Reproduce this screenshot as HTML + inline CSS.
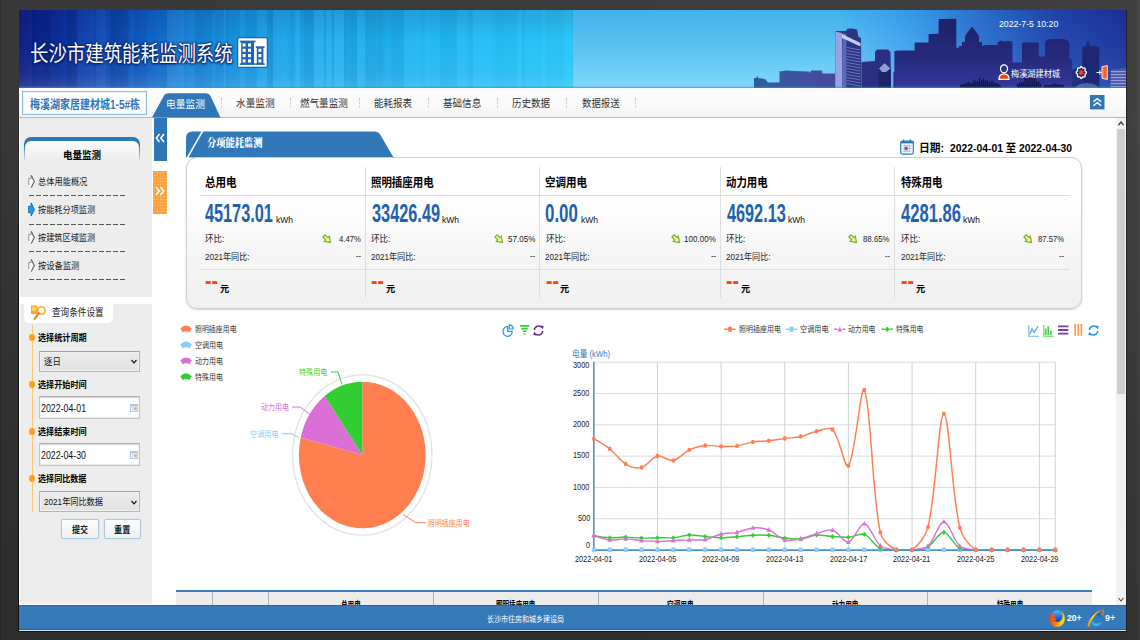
<!DOCTYPE html>
<html lang="zh-CN"><head><meta charset="utf-8"><title>长沙市建筑能耗监测系统</title>
<style>
html,body{margin:0;padding:0}
body{width:1140px;height:640px;overflow:hidden;background:#353535;position:relative;font-family:'Liberation Sans','Noto Sans CJK SC',sans-serif;font-size:12px}
#root{position:absolute;left:0;top:0;width:1140px;height:640px;overflow:hidden}
.a{position:absolute}
.t{position:absolute;white-space:nowrap;line-height:1;transform-origin:0 0;display:block}
svg{position:absolute;overflow:visible}
</style></head><body><div id="root">
<div class="a" style="left:0;top:0;width:1140px;height:640px;background:linear-gradient(to right,#2a2a2a 0,#383838 1.500px,#393939 19px,#3b3b3b 600px,#404040 1127px,#424242 1137px,#4c4c4c 1140px)"></div><div class="a" style="left:0;top:0;width:1140px;height:640px;background:linear-gradient(to bottom,rgba(0,0,0,0) 0,rgba(0,0,0,0) 15%,rgba(0,0,0,.16) 70%,rgba(0,0,0,.22) 100%)"></div><div class="a" style="left:17.800px;top:60px;width:1.400px;height:572px;background:linear-gradient(to bottom,rgba(15,15,15,0),rgba(15,15,15,.9) 30%,rgba(15,15,15,1))"></div><div class="a" style="left:19px;top:631px;width:1108px;height:1.300px;background:#131313"></div><div class="a" style="left:1126px;top:10px;width:1.300px;height:622px;background:#222226"></div><div class="a" style="left:19px;top:10px;width:1107px;height:621px;background:#fff"></div><div class="a" style="left:19px;top:10px;width:555px;height:78px;background:linear-gradient(to right,#0a1a80 0,#0a1e86 1.200%,#0c2c98 6%,#0c40ae 12%,#0e52be 18%,#1068cc 24%,#1480d8 30%,#1890e0 36%,#189ce6 42%,#1aa6ea 48%,#1cb0ee 60%,#1eb4f0 68.500%,#24bef5 85%,#2cc8fa 100%)"></div><div class="a" style="left:19px;top:10px;width:555px;height:78px;background:linear-gradient(to right,rgba(255,255,255,0.024) 0.6px,rgba(255,255,255,0.024) 12.4px,rgba(0,0,40,0.038) 13.6px,rgba(0,0,40,0.038) 25.4px,rgba(0,0,40,0.112) 26.6px,rgba(0,0,40,0.112) 30.4px,rgba(0,0,40,0.031) 31.6px,rgba(0,0,40,0.031) 47.4px,rgba(0,0,40,0.132) 48.6px,rgba(0,0,40,0.132) 51.4px,rgba(0,0,40,0.119) 52.6px,rgba(0,0,40,0.119) 57.4px,rgba(255,255,255,0.027) 58.6px,rgba(255,255,255,0.027) 74.4px,rgba(255,255,255,0.001) 75.6px,rgba(255,255,255,0.001) 76.4px,rgba(255,255,255,0.049) 77.6px,rgba(255,255,255,0.049) 86.4px,rgba(255,255,255,0.005) 87.6px,rgba(255,255,255,0.005) 90.4px,rgba(0,0,40,0.130) 91.6px,rgba(0,0,40,0.130) 107.4px,rgba(0,0,40,0.096) 108.6px,rgba(0,0,40,0.096) 109.4px,rgba(255,255,255,0.002) 110.6px,rgba(255,255,255,0.002) 114.4px,rgba(0,0,40,0.062) 115.6px,rgba(0,0,40,0.062) 127.4px,rgba(0,0,40,0.016) 128.6px,rgba(0,0,40,0.016) 132.4px,rgba(0,0,40,0.020) 133.6px,rgba(0,0,40,0.020) 138.4px,rgba(0,0,40,0.029) 139.6px,rgba(0,0,40,0.029) 141.4px,rgba(0,0,40,0.041) 142.6px,rgba(0,0,40,0.041) 147.4px,rgba(255,255,255,0.064) 148.6px,rgba(255,255,255,0.064) 164.4px,rgba(255,255,255,0.020) 165.6px,rgba(255,255,255,0.020) 167.4px,rgba(255,255,255,0.028) 168.6px,rgba(255,255,255,0.028) 175.4px,rgba(0,0,40,0.063) 176.6px,rgba(0,0,40,0.063) 192.4px,rgba(0,0,40,0.005) 193.6px,rgba(0,0,40,0.005) 195.4px,rgba(0,0,40,0.038) 196.6px,rgba(0,0,40,0.038) 198.4px,rgba(0,0,40,0.040) 199.6px,rgba(0,0,40,0.040) 204.4px,rgba(255,255,255,0.044) 205.6px,rgba(255,255,255,0.044) 206.4px,rgba(0,0,40,0.074) 207.6px,rgba(0,0,40,0.074) 208.4px,rgba(0,0,40,0.023) 209.6px,rgba(0,0,40,0.023) 210.4px,rgba(0,0,40,0.033) 211.6px,rgba(0,0,40,0.033) 220.4px,rgba(255,255,255,0.033) 221.6px,rgba(255,255,255,0.033) 225.4px,rgba(0,0,40,0.047) 226.6px,rgba(0,0,40,0.047) 231.4px,rgba(0,0,40,0.047) 232.6px,rgba(0,0,40,0.047) 237.4px,rgba(255,255,255,0.030) 238.6px,rgba(255,255,255,0.030) 247.4px,rgba(0,0,40,0.081) 248.6px,rgba(0,0,40,0.081) 250.4px,rgba(0,0,40,0.102) 251.6px,rgba(0,0,40,0.102) 253.4px,rgba(255,255,255,0.037) 254.6px,rgba(255,255,255,0.037) 266.4px,rgba(255,255,255,0.016) 267.6px,rgba(255,255,255,0.016) 270.4px,rgba(0,0,40,0.023) 271.6px,rgba(0,0,40,0.023) 275.4px,rgba(255,255,255,0.067) 276.6px,rgba(255,255,255,0.067) 280.4px,rgba(0,0,40,0.027) 281.6px,rgba(0,0,40,0.027) 284.4px,rgba(0,0,40,0.076) 285.6px,rgba(0,0,40,0.076) 294.4px,rgba(255,255,255,0.064) 295.6px,rgba(255,255,255,0.064) 304.4px,rgba(0,0,40,0.049) 305.6px,rgba(0,0,40,0.049) 306.4px,rgba(255,255,255,0.063) 307.6px,rgba(255,255,255,0.063) 312.4px,rgba(0,0,40,0.056) 313.6px,rgba(0,0,40,0.056) 314.4px,rgba(255,255,255,0.061) 315.6px,rgba(255,255,255,0.061) 324.4px,rgba(0,0,40,0.079) 325.6px,rgba(0,0,40,0.079) 327.4px,rgba(0,0,40,0.054) 328.6px,rgba(0,0,40,0.054) 331.4px,rgba(0,0,40,0.082) 332.6px,rgba(0,0,40,0.082) 337.4px,rgba(255,255,255,0.034) 338.6px,rgba(255,255,255,0.034) 345.4px,rgba(0,0,40,0.070) 346.6px,rgba(0,0,40,0.070) 355.4px,rgba(0,0,40,0.050) 356.6px,rgba(0,0,40,0.050) 358.4px,rgba(0,0,40,0.074) 359.6px,rgba(0,0,40,0.074) 363.4px,rgba(0,0,40,0.027) 364.6px,rgba(0,0,40,0.027) 371.4px,rgba(0,0,40,0.057) 372.6px,rgba(0,0,40,0.057) 384.4px,rgba(255,255,255,0.029) 385.6px,rgba(255,255,255,0.029) 397.4px,rgba(255,255,255,0.032) 398.6px,rgba(255,255,255,0.032) 401.4px,rgba(255,255,255,0.005) 402.6px,rgba(255,255,255,0.005) 405.4px,rgba(255,255,255,0.035) 406.6px,rgba(255,255,255,0.035) 411.4px,rgba(255,255,255,0.015) 412.6px,rgba(255,255,255,0.015) 416.4px,rgba(255,255,255,0.016) 417.6px,rgba(255,255,255,0.016) 420.4px,rgba(0,0,40,0.040) 421.6px,rgba(0,0,40,0.040) 437.4px,rgba(255,255,255,0.028) 438.6px,rgba(255,255,255,0.028) 447.4px,rgba(0,0,40,0.015) 448.6px,rgba(0,0,40,0.015) 450.4px,rgba(0,0,40,0.042) 451.6px,rgba(0,0,40,0.042) 453.4px,rgba(255,255,255,0.033) 454.6px,rgba(255,255,255,0.033) 470.4px,rgba(255,255,255,0.013) 471.6px,rgba(255,255,255,0.013) 475.4px,rgba(0,0,40,0.029) 476.6px,rgba(0,0,40,0.029) 485.4px,rgba(0,0,40,0.025) 486.6px,rgba(0,0,40,0.025) 498.4px,rgba(255,255,255,0.030) 499.6px,rgba(255,255,255,0.030) 502.4px,rgba(0,0,40,0.040) 503.6px,rgba(0,0,40,0.040) 505.4px,rgba(0,0,40,0.002) 506.6px,rgba(0,0,40,0.002) 518.4px,rgba(0,0,40,0.027) 519.6px,rgba(0,0,40,0.027) 521.4px,rgba(255,255,255,0.014) 522.6px,rgba(255,255,255,0.014) 526.4px,rgba(0,0,40,0.028) 527.6px,rgba(0,0,40,0.028) 529.4px,rgba(0,0,40,0.029) 530.6px,rgba(0,0,40,0.029) 542.4px,rgba(0,0,40,0.036) 543.6px,rgba(0,0,40,0.036) 544.4px,rgba(0,0,40,0.005) 545.6px,rgba(0,0,40,0.005) 552.4px,rgba(0,0,40,0.043) 553.6px,rgba(0,0,40,0.043) 556.4px)"></div><div class="a" style="left:19px;top:10px;width:555px;height:78px;background:linear-gradient(to bottom,rgba(0,0,60,.14) 0,rgba(0,0,0,0) 40%,rgba(255,255,255,.05) 82%,rgba(255,255,255,.15) 100%)"></div><div class="a" style="left:573px;top:10px;width:553px;height:78px;background:linear-gradient(to bottom,#42b1ec 0,#60c5f4 55%,#80d7fa 100%)"></div><div class="a" style="left:573px;top:10px;width:553px;height:78px;background:linear-gradient(to right,rgba(40,130,225,0) 0,rgba(40,130,225,0) 48%,rgba(40,130,225,.55) 62%,rgba(36,96,196,.85) 74%,rgba(28,62,165,.96) 87%,rgba(26,46,150,1) 100%)"></div><div class="a" style="left:860px;top:10px;width:266px;height:78px;background:linear-gradient(to bottom,rgba(255,255,255,0) 0,rgba(120,190,255,.10) 60%,rgba(120,190,255,.22) 100%)"></div><svg style="left:0;top:0;clip-path:inset(10px 14px 552px 573px)" width="1140" height="640" viewBox="0 0 1140 640"><defs><linearGradient id="skyg" gradientUnits="userSpaceOnUse" x1="0" y1="18" x2="0" y2="88"><stop offset="0" stop-color="#1d2168"/><stop offset=".55" stop-color="#252a7c"/><stop offset="1" stop-color="#33389a"/></linearGradient><linearGradient id="lowb" x1="0" x2="1" y1="0" y2="0"><stop offset="0" stop-color="#2c5f9f"/><stop offset="1" stop-color="#49499c"/></linearGradient></defs><polygon points="754,88 754,78 756.500,78 757,75.500 758.500,78 765,79 768,82.500 779.500,82.500 779.500,71.500 786,70.500 795,71 809,71.500 810,73 811,70.500 822,70.500 822.500,73.500 835,73.500 835,88" fill="url(#lowb)"/><polygon points="835.300,88 835.300,31 846,31 847,29 851,28.200 857,29.500 858.500,37 861,38 861.500,88" fill="#2b3582"/><polygon points="835.300,88 835.300,31.500 842,33 842.500,88" fill="#96a4e6"/><polygon points="842.500,88 842.500,33 846.500,34 846.500,88" fill="#5a69b8"/><polygon points="842,34 860.500,43 860.500,46.500 842,38" fill="#c6cdf2"/><path d="M847 47.5L860.500 50.0" stroke="#8c9ad8" stroke-width=".9" opacity=".75"/><path d="M847 50.5L860.500 53.0" stroke="#8c9ad8" stroke-width=".9" opacity=".75"/><path d="M847 53.5L860.500 56.0" stroke="#8c9ad8" stroke-width=".9" opacity=".75"/><path d="M847 56.5L860.500 59.0" stroke="#8c9ad8" stroke-width=".9" opacity=".75"/><path d="M847 59.5L860.500 62.0" stroke="#8c9ad8" stroke-width=".9" opacity=".75"/><path d="M847 62.5L860.500 65.0" stroke="#8c9ad8" stroke-width=".9" opacity=".75"/><path d="M847 65.5L860.500 68.0" stroke="#8c9ad8" stroke-width=".9" opacity=".75"/><path d="M847 68.5L860.500 71.0" stroke="#8c9ad8" stroke-width=".9" opacity=".75"/><path d="M847 71.5L860.500 74.0" stroke="#8c9ad8" stroke-width=".9" opacity=".75"/><path d="M847 74.5L860.500 77.0" stroke="#8c9ad8" stroke-width=".9" opacity=".75"/><path d="M847 77.5L860.500 80.0" stroke="#8c9ad8" stroke-width=".9" opacity=".75"/><path d="M847 80.5L860.500 83.0" stroke="#8c9ad8" stroke-width=".9" opacity=".75"/><path d="M847 83.5L860.500 86.0" stroke="#8c9ad8" stroke-width=".9" opacity=".75"/><polygon points="861.500,88 861.500,62 868,61.500 875,61 875,52 877,49.500 888,49.500 890.500,52 891,88" fill="#2b3084"/><polygon points="878.600,88 878.600,68 884.500,62.600 891,68 891,88" fill="#1d2566"/><polygon points="879,68.500 884.500,63 890.500,68.500 886,72 882,72" fill="#8e9cda"/><polygon points="893.500,88 893.500,72 897.500,68.800 902.300,72 902.300,88" fill="#1d2566"/><polygon points="894,72 897.500,69 902,72 898,75" fill="#9aa6e0"/><polygon points="894.400,88 894.400,51 898,50.400 914.600,50.400 914.600,43 916,42.500 928.600,42.500 928.600,34 938.500,33.700 938.800,19 956.300,18.800 956.300,47.700 959,47.700 959,46 962,46 962,42 965,42 965,36 968.500,31 972,26.700 975.500,31 979,36 979,42 982,42 982,46 983.500,46 983.500,45 997.500,45 997.500,42.500 999,41.600 1001,40.500 1003,41.600 1009,41 1012.500,41.600 1012.500,62.600 1022,62.600 1022,43 1024,42.500 1038.800,42.500 1038.800,56.500 1045,56.500 1045,42 1047.500,39.600 1052,39 1064,39 1068,40.500 1069.500,44 1069.500,59 1072,59 1072,88" fill="url(#skyg)"/><polygon points="1082.300,88 1082.300,47 1086,46 1087.300,42 1088,41 1088.800,42 1090,46 1099.300,46.500 1099.300,88" fill="#1e2774"/><polygon points="1072,88 1072,70 1082.300,66 1082.300,88" fill="#22307e"/><polygon points="1110.700,88 1110.700,69.500 1126,68 1126,88" fill="#4a5aa6"/><rect x="1110.700" y="71" width="15.300" height="1.200" fill="#a6b2e6" opacity=".8"/><rect x="1110.700" y="74" width="15.300" height="1.200" fill="#a6b2e6" opacity=".8"/><rect x="1110.700" y="77" width="15.300" height="1.200" fill="#a6b2e6" opacity=".8"/><rect x="1110.700" y="80" width="15.300" height="1.200" fill="#a6b2e6" opacity=".8"/><rect x="1110.700" y="83" width="15.300" height="1.200" fill="#a6b2e6" opacity=".8"/><rect x="1110.700" y="86" width="15.300" height="1.200" fill="#a6b2e6" opacity=".8"/><ellipse cx="1087" cy="89" rx="12" ry="6" fill="#8cc0f4" opacity=".4"/><rect x="960.0" y="85.6" width="1.300" height="2.4" fill="#121440"/><rect x="961.9" y="84.3" width="1.300" height="3.7" fill="#121440"/><rect x="963.8" y="84.0" width="1.300" height="4.0" fill="#121440"/><rect x="965.7" y="82.7" width="1.300" height="5.3" fill="#121440"/><rect x="967.6" y="81.9" width="1.300" height="6.1" fill="#121440"/><rect x="969.5" y="83.0" width="1.300" height="5.0" fill="#121440"/><rect x="971.4" y="82.8" width="1.300" height="5.2" fill="#121440"/><rect x="973.3" y="79.5" width="1.300" height="8.5" fill="#121440"/><rect x="975.2" y="81.3" width="1.300" height="6.7" fill="#121440"/><rect x="977.1" y="81.2" width="1.300" height="6.8" fill="#121440"/><rect x="979.0" y="78.0" width="1.300" height="10.0" fill="#121440"/><rect x="980.9" y="80.1" width="1.300" height="7.9" fill="#121440"/><rect x="982.8" y="78.8" width="1.300" height="9.2" fill="#121440"/><rect x="984.7" y="80.4" width="1.300" height="7.6" fill="#121440"/><rect x="986.6" y="80.2" width="1.300" height="7.8" fill="#121440"/><rect x="988.5" y="82.3" width="1.300" height="5.7" fill="#121440"/><rect x="990.4" y="81.2" width="1.300" height="6.8" fill="#121440"/><rect x="992.3" y="81.2" width="1.300" height="6.8" fill="#121440"/><rect x="994.2" y="82.9" width="1.300" height="5.1" fill="#121440"/><rect x="996.1" y="83.1" width="1.300" height="4.9" fill="#121440"/><rect x="998.0" y="84.1" width="1.300" height="3.9" fill="#121440"/><rect x="999.9" y="85.8" width="1.300" height="2.2" fill="#121440"/><rect x="960" y="85" width="40" height="3" fill="#14174a"/><rect x="1017.0" y="84.2" width="1.300" height="3.8" fill="#121440"/><rect x="1018.9" y="82.9" width="1.300" height="5.1" fill="#121440"/><rect x="1020.8" y="82.3" width="1.300" height="5.7" fill="#121440"/><rect x="1022.7" y="82.2" width="1.300" height="5.8" fill="#121440"/><rect x="1024.6" y="77.8" width="1.300" height="10.2" fill="#121440"/><rect x="1026.5" y="78.9" width="1.300" height="9.1" fill="#121440"/><rect x="1028.4" y="77.4" width="1.300" height="10.6" fill="#121440"/><rect x="1030.3" y="76.7" width="1.300" height="11.3" fill="#121440"/><rect x="1032.2" y="78.0" width="1.300" height="10.0" fill="#121440"/><rect x="1034.1" y="78.0" width="1.300" height="10.0" fill="#121440"/><rect x="1036.0" y="81.2" width="1.300" height="6.8" fill="#121440"/><rect x="1037.9" y="81.3" width="1.300" height="6.7" fill="#121440"/><rect x="1039.8" y="83.8" width="1.300" height="4.2" fill="#121440"/><rect x="1017" y="85" width="24" height="3" fill="#14174a"/><rect x="1044.0" y="86.3" width="1.300" height="1.7" fill="#121440"/><rect x="1045.9" y="85.4" width="1.300" height="2.6" fill="#121440"/><rect x="1047.8" y="85.7" width="1.300" height="2.3" fill="#121440"/><rect x="1049.7" y="85.2" width="1.300" height="2.8" fill="#121440"/><rect x="1051.6" y="84.7" width="1.300" height="3.3" fill="#121440"/><rect x="1053.5" y="83.1" width="1.300" height="4.9" fill="#121440"/><rect x="1055.4" y="84.2" width="1.300" height="3.8" fill="#121440"/><rect x="1057.3" y="84.1" width="1.300" height="3.9" fill="#121440"/><rect x="1059.2" y="85.1" width="1.300" height="2.9" fill="#121440"/><rect x="1061.1" y="85.4" width="1.300" height="2.6" fill="#121440"/><rect x="1063.0" y="86.3" width="1.300" height="1.7" fill="#121440"/><rect x="1044" y="85" width="20" height="3" fill="#14174a"/></svg><div class="a" style="left:19px;top:86px;width:1107px;height:2px;background:linear-gradient(rgba(30,140,220,.0),rgba(30,150,230,.8))"></div><span class="t" style="left:29.58px;top:44px;font-size:21.50px;color:#fff;font-weight:400;transform:scaleX(0.8569);text-shadow:0 0 2px #08206e,0 0 2px #08206e,0 0 3px #08206e,0 1px 3px #061a60;">长沙市建筑能耗监测系统</span><svg style="left:236.500px;top:36.500px" width="31" height="31" viewBox="0 0 31 31">
<rect x=".6" y=".6" width="29.800" height="29.800" rx="1.500" fill="#fff" stroke="#1c63b4" stroke-width="1.300"/>
<rect x="4.200" y="4.500" width="12.800" height="22.500" fill="#1c63b4"/>
<rect x="2.800" y="3.600" width="15.800" height="1.700" fill="#1c63b4"/><rect x="2.800" y="26.300" width="15.800" height="1.600" fill="#1c63b4"/>
<rect x="19.800" y="10" width="6.600" height="17" fill="#1c63b4"/>
<rect x="18.800" y="9.300" width="8.800" height="1.600" fill="#1c63b4"/><rect x="18.800" y="26.300" width="8.800" height="1.600" fill="#1c63b4"/>
<rect x="5.6" y="6.4" width="3" height="3.200" fill="#fff"/><rect x="11.0" y="6.4" width="3" height="3.200" fill="#fff"/><rect x="5.6" y="11.7" width="3" height="3.200" fill="#fff"/><rect x="11.0" y="11.7" width="3" height="3.200" fill="#fff"/><rect x="5.6" y="17.0" width="3" height="3.200" fill="#fff"/><rect x="11.0" y="17.0" width="3" height="3.200" fill="#fff"/><rect x="5.6" y="22.3" width="3" height="3.200" fill="#fff"/><rect x="11.0" y="22.3" width="3" height="3.200" fill="#fff"/><rect x="21.4" y="11.7" width="3" height="3.200" fill="#fff"/><rect x="21.4" y="17.0" width="3" height="3.200" fill="#fff"/><rect x="21.4" y="22.3" width="3" height="3.200" fill="#fff"/></svg><span class="t" style="left:999.06px;top:19px;font-size:9.50px;color:#fff;font-weight:400;transform:scaleX(0.9195);">2022-7-5 10:20</span><svg style="left:997.500px;top:63.800px" width="12" height="16" viewBox="0 0 12 16">
<ellipse cx="6" cy="4.800" rx="3.500" ry="4" fill="none" stroke="#fff" stroke-width="1.300"/>
<path d="M.9 15.400c0-3.800 2-5.600 5.100-5.600s5.100 1.800 5.100 5.600z" fill="#f4410e" stroke="#fff" stroke-width="1.200"/></svg><span class="t" style="left:1010.86px;top:70px;font-size:8.80px;color:#fff;font-weight:400;transform:scaleX(0.9278);">梅溪湖建材城</span><svg style="left:1074.800px;top:64.500px" width="12.600" height="15" viewBox="-6.300 -7.500 12.600 15">
<path d="M5.12 0.00 L5.04 0.38 L4.82 0.74 L4.51 1.04 L4.20 1.31 L3.93 1.55 L3.77 1.82 L3.73 2.14 L3.76 2.52 L3.83 2.97 L3.85 3.44 L3.80 3.87 L3.62 4.21 L3.33 4.41 L2.96 4.48 L2.56 4.45 L2.17 4.37 L1.84 4.33 L1.56 4.39 L1.34 4.57 L1.12 4.88 L0.90 5.25 L0.63 5.60 L0.33 5.86 L0.00 5.95 L-0.33 5.86 L-0.63 5.60 L-0.90 5.25 L-1.12 4.88 L-1.34 4.57 L-1.56 4.39 L-1.84 4.33 L-2.17 4.37 L-2.56 4.45 L-2.96 4.48 L-3.33 4.41 L-3.62 4.21 L-3.80 3.87 L-3.85 3.44 L-3.83 2.97 L-3.76 2.52 L-3.73 2.14 L-3.77 1.82 L-3.93 1.55 L-4.20 1.31 L-4.51 1.04 L-4.82 0.74 L-5.04 0.38 L-5.12 0.00 L-5.04 -0.38 L-4.82 -0.74 L-4.51 -1.04 L-4.20 -1.31 L-3.93 -1.55 L-3.77 -1.82 L-3.73 -2.14 L-3.76 -2.52 L-3.83 -2.97 L-3.85 -3.44 L-3.80 -3.87 L-3.62 -4.21 L-3.33 -4.41 L-2.96 -4.48 L-2.56 -4.45 L-2.17 -4.37 L-1.84 -4.33 L-1.56 -4.39 L-1.34 -4.57 L-1.12 -4.88 L-0.90 -5.25 L-0.63 -5.60 L-0.33 -5.86 L-0.00 -5.95 L0.33 -5.86 L0.63 -5.60 L0.90 -5.25 L1.12 -4.88 L1.34 -4.57 L1.56 -4.39 L1.84 -4.33 L2.17 -4.37 L2.56 -4.45 L2.96 -4.48 L3.33 -4.41 L3.62 -4.21 L3.80 -3.87 L3.85 -3.44 L3.83 -2.97 L3.76 -2.53 L3.73 -2.14 L3.77 -1.82 L3.93 -1.55 L4.20 -1.31 L4.51 -1.04 L4.82 -0.74 L5.04 -0.38 L5.12 -0.00Z" fill="#20287a" stroke="#fff" stroke-width="1.300"/><ellipse rx="2.300" ry="2.600" fill="#f4410e"/></svg><svg style="left:1095.500px;top:64.500px" width="12" height="15" viewBox="0 0 12 15">
<path d="M6 1.800L11.300 .5v14L6 13.200z" fill="#f4511e" stroke="#fff" stroke-width=".9"/>
<path d="M7.500 3v9.500M9.300 2.500v10.500" stroke="#f7a07a" stroke-width=".5"/>
<path d="M.5 7.500h5.500M3.800 5.500v4" fill="none" stroke="#fff" stroke-width="1.100"/></svg><div class="a" style="left:19px;top:88px;width:1107px;height:29px;background:linear-gradient(#fdfdfd,#fafafa 50%,#f4f4f4)"></div><div class="a" style="left:19px;top:117px;width:1107px;height:1px;background:#b9b9b9"></div><div class="a" style="left:22px;top:91px;width:123px;height:22px;border:1px solid #8fb8e2;background:#fff;box-shadow:inset 0 0 0 1px #e8f1fa"></div><span class="t" style="left:29.90px;top:99px;font-size:12.50px;color:#2f76b7;font-weight:700;transform:scaleX(0.7999);">梅溪湖家居建材城1-5#栋</span><svg style="left:0;top:0" width="300" height="120" viewBox="0 0 300 120"><path d="M152 117.500 L163.500 96.500 Q165 93.200 169 93.200 L205.500 93.200 Q209 93.200 210.700 96.500 L220.500 117.500 Z" fill="#2f76b7"/></svg><span class="t" style="left:166.03px;top:100px;font-size:10.40px;color:#fff;font-weight:400;transform:scaleX(0.9363);">电量监测</span><span class="t" style="left:235.71px;top:99px;font-size:10.40px;color:#333;font-weight:400;transform:scaleX(0.9270);">水量监测</span><span class="t" style="left:300.31px;top:99px;font-size:10.40px;color:#333;font-weight:400;transform:scaleX(0.9184);">燃气量监测</span><span class="t" style="left:374.12px;top:99px;font-size:10.40px;color:#333;font-weight:400;transform:scaleX(0.9174);">能耗报表</span><span class="t" style="left:443.21px;top:99px;font-size:10.40px;color:#333;font-weight:400;transform:scaleX(0.9198);">基础信息</span><span class="t" style="left:512.21px;top:99px;font-size:10.40px;color:#333;font-weight:400;transform:scaleX(0.9175);">历史数据</span><span class="t" style="left:582.02px;top:99px;font-size:10.40px;color:#333;font-weight:400;transform:scaleX(0.9056);">数据报送</span><div class="a" style="left:220.7px;top:98px;width:0;height:10px;border-left:1px dotted #bdbdbd"></div><div class="a" style="left:289.5px;top:98px;width:0;height:10px;border-left:1px dotted #bdbdbd"></div><div class="a" style="left:359.0px;top:98px;width:0;height:10px;border-left:1px dotted #bdbdbd"></div><div class="a" style="left:428.0px;top:98px;width:0;height:10px;border-left:1px dotted #bdbdbd"></div><div class="a" style="left:497.0px;top:98px;width:0;height:10px;border-left:1px dotted #bdbdbd"></div><div class="a" style="left:566.0px;top:98px;width:0;height:10px;border-left:1px dotted #bdbdbd"></div><div class="a" style="left:635.0px;top:98px;width:0;height:10px;border-left:1px dotted #bdbdbd"></div><svg style="left:1090.300px;top:95px" width="14.500" height="14.400" viewBox="0 0 13 14" preserveAspectRatio="none"><rect width="13" height="14" fill="#2f76b7"/>
<path d="M3 6.500l3.500-3 3.500 3M3 10.500l3.500-3 3.500 3" fill="none" stroke="#fff" stroke-width="1.400"/></svg><div class="a" style="left:20.300px;top:118px;width:132.200px;height:487px;background:#ededed"></div><div class="a" style="left:153.500px;top:118px;width:13px;height:42.500px;background:#2f76b7"></div><svg style="left:155px;top:133px" width="10" height="10" viewBox="0 0 10 10"><path d="M4.500 1L1.300 5l3.200 4M9 1L5.800 5 9 9" fill="none" stroke="#fff" stroke-width="1.500"/></svg><div class="a" style="left:153px;top:171px;width:13.500px;height:43px;background:#fba23e;background-image:radial-gradient(rgba(255,255,255,.35) .5px,rgba(255,255,255,0) .8px);background-size:3px 3px"></div><svg style="left:155px;top:186px" width="10" height="10" viewBox="0 0 10 10"><path d="M1 1l3.200 4L1 9M5.500 1l3.200 4-3.200 4" fill="none" stroke="#fff" stroke-width="1.500"/></svg><div class="a" style="left:24px;top:136.500px;width:116px;height:24px;border-radius:7px 7px 0 0;background:linear-gradient(#2f76b7 0,#2f76b7 35%,rgba(47,118,183,.55) 65%,rgba(47,118,183,.12) 100%)"></div><div class="a" style="left:25.200px;top:141.300px;width:113.600px;height:19.500px;border-radius:6px 6px 0 0;background:linear-gradient(#fafafa,#f4f4f4 55%,#ededed)"></div><span class="t" style="left:63.45px;top:150px;font-size:10.60px;color:#000;font-weight:700;transform:scaleX(0.8991);">电量监测</span><span class="t" style="left:38.27px;top:177px;font-size:9.60px;color:#222;font-weight:400;transform:scaleX(0.8572);">总体用能概况</span><div class="a" style="left:28.800px;top:194.9px;width:97.200px;height:1px;background:repeating-linear-gradient(to right,#555 0,#555 5.200px,rgba(0,0,0,0) 5.200px,rgba(0,0,0,0) 7px)"></div><svg style="left:28.200px;top:174.0px" width="7" height="15" viewBox="0 0 7 15"><path d="M.8 11V4.400h2.400V1.200L6.300 7.500 3.200 13.800" fill="#f8f8f8" stroke="#7a7a7a" stroke-width=".8"/><path d="M3.400 1.800L6.300 7.500 3.400 13.200" fill="none" stroke="#555" stroke-width=".9"/></svg><span class="t" style="left:38.35px;top:205px;font-size:9.60px;color:#222;font-weight:400;transform:scaleX(0.8514);">按能耗分项监测</span><div class="a" style="left:28.800px;top:224.3px;width:97.200px;height:1px;background:repeating-linear-gradient(to right,#555 0,#555 5.200px,rgba(0,0,0,0) 5.200px,rgba(0,0,0,0) 7px)"></div><svg style="left:28.200px;top:202.1px" width="7" height="15" viewBox="0 0 7 15"><path d="M.6 4.200h2.600V.9L6.500 7.500 3.200 14.100V10.800H.6z" fill="#1e9fe8" stroke="#0b5cab" stroke-width=".8"/></svg><span class="t" style="left:38.35px;top:233px;font-size:9.60px;color:#222;font-weight:400;transform:scaleX(0.8514);">按建筑区域监测</span><div class="a" style="left:28.800px;top:251.1px;width:97.200px;height:1px;background:repeating-linear-gradient(to right,#555 0,#555 5.200px,rgba(0,0,0,0) 5.200px,rgba(0,0,0,0) 7px)"></div><svg style="left:28.200px;top:230.3px" width="7" height="15" viewBox="0 0 7 15"><path d="M.8 11V4.400h2.400V1.200L6.300 7.500 3.200 13.800" fill="#f8f8f8" stroke="#7a7a7a" stroke-width=".8"/><path d="M3.400 1.800L6.300 7.500 3.400 13.200" fill="none" stroke="#555" stroke-width=".9"/></svg><span class="t" style="left:38.35px;top:261px;font-size:9.60px;color:#222;font-weight:400;transform:scaleX(0.8631);">按设备监测</span><div class="a" style="left:28.800px;top:279.2px;width:97.200px;height:1px;background:repeating-linear-gradient(to right,#555 0,#555 5.200px,rgba(0,0,0,0) 5.200px,rgba(0,0,0,0) 7px)"></div><svg style="left:28.200px;top:258.4px" width="7" height="15" viewBox="0 0 7 15"><path d="M.8 11V4.400h2.400V1.200L6.300 7.500 3.200 13.800" fill="#f8f8f8" stroke="#7a7a7a" stroke-width=".8"/><path d="M3.400 1.800L6.300 7.500 3.400 13.200" fill="none" stroke="#555" stroke-width=".9"/></svg><div class="a" style="left:19px;top:297px;width:133.500px;height:6.500px;background:#fff"></div><div class="a" style="left:24px;top:297px;width:88.500px;height:25.500px;border-radius:0 0 5px 5px;background:#fff"></div><svg style="left:30px;top:304px" width="17" height="17" viewBox="0 0 17 17">
<path d="M1 1.500h5.500l1 1.500V10H1z" fill="#f9a825"/><path d="M2 4h4M2 6h4" stroke="#fff" stroke-width=".8"/>
<circle cx="11.500" cy="6.500" r="3.700" fill="#fff" stroke="#f9a825" stroke-width="1.500"/>
<path d="M8.800 9.200L4.500 15" stroke="#f57c00" stroke-width="2" stroke-linecap="round"/></svg><span class="t" style="left:52.04px;top:308px;font-size:10.00px;color:#222;font-weight:400;transform:scaleX(0.8615);">查询条件设置</span><div class="a" style="left:31.500px;top:325px;width:1.200px;height:187px;background:#fbc878"></div><div class="a" style="left:29.200px;top:334.4px;width:6px;height:6.800px;border-radius:50%;background:#fba018"></div><span class="t" style="left:38.16px;top:334px;font-size:8.90px;color:#000;font-weight:700;transform:scaleX(0.9145);">选择统计周期</span><div class="a" style="left:29.200px;top:381.2px;width:6px;height:6.800px;border-radius:50%;background:#fba018"></div><span class="t" style="left:38.16px;top:381px;font-size:8.90px;color:#000;font-weight:700;transform:scaleX(0.9145);">选择开始时间</span><div class="a" style="left:29.200px;top:428.0px;width:6px;height:6.800px;border-radius:50%;background:#fba018"></div><span class="t" style="left:38.16px;top:428px;font-size:8.90px;color:#000;font-weight:700;transform:scaleX(0.9145);">选择结束时间</span><div class="a" style="left:29.200px;top:475.0px;width:6px;height:6.800px;border-radius:50%;background:#fba018"></div><span class="t" style="left:38.16px;top:475px;font-size:8.90px;color:#000;font-weight:700;transform:scaleX(0.9098);">选择同比数据</span><div class="a" style="left:38.500px;top:351.0px;width:99.500px;height:18.5px;border:1px solid #b4b4b4;border-top-color:#a2a2a2;background:linear-gradient(#ececec,#e2e2e2);box-shadow:inset 0 0 0 1px #f0f0f0"></div><span class="t" style="left:44.05px;top:357px;font-size:9.60px;color:#111;font-weight:400;transform:scaleX(0.8748);">逐日</span><svg style="left:130.500px;top:359.2px" width="6" height="5" viewBox="0 0 6 5"><path d="M.5 1l2.500 2.800L5.500 1" fill="none" stroke="#111" stroke-width="1.200"/></svg><div class="a" style="left:38.500px;top:396.4px;width:99.500px;height:21.0px;border:1px solid #c4c4c4;border-top-color:#adadad;background:#fff;box-shadow:inset 0 1px 1.500px #d2d2d2,inset 0 -1px 0 #ececec"></div><span class="t" style="left:41.36px;top:403px;font-size:10.60px;color:#111;font-weight:400;transform:scaleX(0.8308);">2022-04-01</span><svg style="left:130px;top:403.9px" width="8" height="8" viewBox="0 0 8 8"><rect x=".4" y=".4" width="7.200" height="7.200" fill="#e8f0fb" stroke="#a8c0e2" stroke-width=".8"/><rect x=".4" y=".4" width="7.200" height="1.800" fill="#a9c3ea"/><path d="M2 3.500h4M2 5.300h4M3 2.500v4M5 2.500v4" stroke="#c3d4ee" stroke-width=".5"/><rect x="4.300" y="3.600" width="2.200" height="2.200" fill="#f0a23e"/></svg><div class="a" style="left:38.500px;top:443.2px;width:99.500px;height:21.0px;border:1px solid #c4c4c4;border-top-color:#adadad;background:#fff;box-shadow:inset 0 1px 1.500px #d2d2d2,inset 0 -1px 0 #ececec"></div><span class="t" style="left:41.36px;top:450px;font-size:10.60px;color:#111;font-weight:400;transform:scaleX(0.8291);">2022-04-30</span><svg style="left:130px;top:450.7px" width="8" height="8" viewBox="0 0 8 8"><rect x=".4" y=".4" width="7.200" height="7.200" fill="#e8f0fb" stroke="#a8c0e2" stroke-width=".8"/><rect x=".4" y=".4" width="7.200" height="1.800" fill="#a9c3ea"/><path d="M2 3.500h4M2 5.300h4M3 2.500v4M5 2.500v4" stroke="#c3d4ee" stroke-width=".5"/><rect x="4.300" y="3.600" width="2.200" height="2.200" fill="#f0a23e"/></svg><div class="a" style="left:38.500px;top:491.0px;width:99.500px;height:19.0px;border:1px solid #b4b4b4;border-top-color:#a2a2a2;background:linear-gradient(#ececec,#e2e2e2);box-shadow:inset 0 0 0 1px #f0f0f0"></div><span class="t" style="left:43.89px;top:497px;font-size:9.60px;color:#111;font-weight:400;transform:scaleX(0.8497);">2021年同比数据</span><svg style="left:130.500px;top:499.5px" width="6" height="5" viewBox="0 0 6 5"><path d="M.5 1l2.500 2.800L5.500 1" fill="none" stroke="#111" stroke-width="1.200"/></svg><div class="a" style="left:61.0px;top:519px;width:35.500px;height:17.500px;border:1px solid #a9c9dc;border-radius:2px;background:linear-gradient(#fdfdfd,#f0f0f0);box-shadow:0 0 0 .5px #d6e6ef"></div><span class="t" style="left:71.74px;top:526px;font-size:9.30px;color:#0a2530;font-weight:700;transform:scaleX(0.8702);">提交</span><div class="a" style="left:103.5px;top:519px;width:35.500px;height:17.500px;border:1px solid #a9c9dc;border-radius:2px;background:linear-gradient(#fdfdfd,#f0f0f0);box-shadow:0 0 0 .5px #d6e6ef"></div><span class="t" style="left:114.07px;top:526px;font-size:9.30px;color:#0a2530;font-weight:700;transform:scaleX(0.8793);">重置</span><svg style="left:0;top:0" width="420" height="170" viewBox="0 0 420 170">
<path d="M186 157.500 V138 Q186 131.500 192.500 131.500 H374.500 Q378.500 131.500 380.500 135 L393.500 157.500 Z" fill="#3078b8"/>
<path d="M186.800 159 Q194 146 202.600 131.200" stroke="#fff" stroke-width="1.600" fill="none"/>
</svg><span class="t" style="left:207.02px;top:138px;font-size:10.80px;color:#fff;font-weight:900;transform:scaleX(0.8560);font-family:'Liberation Serif','Noto Serif CJK SC',serif;">分项能耗监测</span><svg style="left:899.500px;top:139px" width="14" height="16" viewBox="0 0 14 16">
<rect x=".7" y="2.200" width="12.600" height="13" rx="1.800" fill="#fff" stroke="#2f76b7" stroke-width="1.200"/>
<rect x=".7" y="2.200" width="12.600" height="2.200" fill="#2f76b7"/>
<path d="M3.500 .4v3M10.500 .4v3" stroke="#2f76b7" stroke-width="1.300"/>
<path d="M2.500 7h9M2.500 9.500h9M2.500 12h9M4.800 5.500v8M7 5.500v8M9.200 5.500v8" stroke="#5f9ad6" stroke-width=".6"/>
<rect x="4.800" y="8.200" width="2.600" height="2.600" fill="#e02020"/></svg><span class="t" style="left:919.39px;top:143px;font-size:11.00px;color:#000;font-weight:700;transform:scaleX(0.9787);">日期:</span><span class="t" style="left:950.39px;top:143px;font-size:11.00px;color:#000;font-weight:700;transform:scaleX(0.9409);">2022-04-01 至 2022-04-30</span><div class="a" style="left:186px;top:157px;width:894px;height:150px;border:1px solid #cfcfcf;border-radius:11px;background:linear-gradient(#fff 0,#fff 28%,#f6f6f6 60%,#f1f1f1 100%);box-shadow:0 1px 2px rgba(0,0,0,.18)"></div><div class="a" style="left:199.500px;top:194.700px;width:870px;height:1px;background:#d6dee2"></div><div class="a" style="left:199.500px;top:269.300px;width:870px;height:1px;background:#d9dfe2"></div><div class="a" style="left:365.2px;top:167px;width:1px;height:131px;background:#dedede"></div><div class="a" style="left:539.4px;top:167px;width:1px;height:131px;background:#dedede"></div><div class="a" style="left:719.6px;top:167px;width:1px;height:131px;background:#dedede"></div><div class="a" style="left:894.2px;top:167px;width:1px;height:131px;background:#dedede"></div><span class="t" style="left:204.88px;top:177px;font-size:12.20px;color:#000;font-weight:700;transform:scaleX(0.8641);">总用电</span><span class="t" style="left:205.24px;top:201px;font-size:25.50px;color:#1f62ad;font-weight:700;transform:scaleX(0.6374);">45173.01</span><span class="t" style="left:275.59px;top:217px;font-size:8.20px;color:#111;font-weight:400;transform:scaleX(1.0422);">kWh</span><span class="t" style="left:204.95px;top:235px;font-size:8.80px;color:#222;font-weight:400;transform:scaleX(0.9628);">环比:</span><span class="t" style="left:338.85px;top:235px;font-size:8.80px;color:#222;font-weight:400;transform:scaleX(0.8769);">4.47%</span><svg style="left:322.0px;top:234.200px" width="9.400" height="9.400" viewBox="0 0 9 9"><path d="M.9 2.900L2.900 .9l2.700 2.700L7 2.200 8.100 8.100 2.200 7l1.400-1.400z" fill="#eefbc0" stroke="#7cb518" stroke-width="1.150"/></svg><span class="t" style="left:204.80px;top:253px;font-size:8.80px;color:#222;font-weight:400;transform:scaleX(0.9193);">2021年同比:</span><span class="t" style="left:355.73px;top:252px;font-size:8.80px;color:#222;font-weight:400;transform:scaleX(0.8700);">--</span><span class="t" style="left:204.92px;top:270px;font-size:23.00px;color:#ff4400;font-weight:700;transform:scaleX(0.8436);">--</span><span class="t" style="left:219.73px;top:284px;font-size:9.60px;color:#000;font-weight:700;transform:scaleX(0.9530);">元</span><span class="t" style="left:371.39px;top:177px;font-size:12.20px;color:#000;font-weight:700;transform:scaleX(0.8555);">照明插座用电</span><span class="t" style="left:371.57px;top:201px;font-size:25.50px;color:#1f62ad;font-weight:700;transform:scaleX(0.6395);">33426.49</span><span class="t" style="left:441.99px;top:217px;font-size:8.20px;color:#111;font-weight:400;transform:scaleX(1.0422);">kWh</span><span class="t" style="left:371.45px;top:235px;font-size:8.80px;color:#222;font-weight:400;transform:scaleX(0.9628);">环比:</span><span class="t" style="left:507.98px;top:235px;font-size:8.80px;color:#222;font-weight:400;transform:scaleX(0.9166);">57.05%</span><svg style="left:493.7px;top:234.200px" width="9.400" height="9.400" viewBox="0 0 9 9"><path d="M.9 2.900L2.900 .9l2.700 2.700L7 2.200 8.100 8.100 2.200 7l1.400-1.400z" fill="#eefbc0" stroke="#7cb518" stroke-width="1.150"/></svg><span class="t" style="left:371.30px;top:253px;font-size:8.80px;color:#222;font-weight:400;transform:scaleX(0.9193);">2021年同比:</span><span class="t" style="left:530.33px;top:252px;font-size:8.80px;color:#222;font-weight:400;transform:scaleX(0.8700);">--</span><span class="t" style="left:371.42px;top:270px;font-size:23.00px;color:#ff4400;font-weight:700;transform:scaleX(0.8436);">--</span><span class="t" style="left:386.23px;top:284px;font-size:9.60px;color:#000;font-weight:700;transform:scaleX(0.9530);">元</span><span class="t" style="left:545.17px;top:177px;font-size:12.20px;color:#000;font-weight:700;transform:scaleX(0.8615);">空调用电</span><span class="t" style="left:545.49px;top:201px;font-size:25.50px;color:#1f62ad;font-weight:700;transform:scaleX(0.6612);">0.00</span><span class="t" style="left:580.69px;top:217px;font-size:8.20px;color:#111;font-weight:400;transform:scaleX(1.0422);">kWh</span><span class="t" style="left:545.55px;top:235px;font-size:8.80px;color:#222;font-weight:400;transform:scaleX(0.9628);">环比:</span><span class="t" style="left:684.24px;top:235px;font-size:8.80px;color:#222;font-weight:400;transform:scaleX(0.9153);">100.00%</span><svg style="left:670.6px;top:234.200px" width="9.400" height="9.400" viewBox="0 0 9 9"><path d="M.9 2.900L2.900 .9l2.700 2.700L7 2.200 8.100 8.100 2.200 7l1.400-1.400z" fill="#eefbc0" stroke="#7cb518" stroke-width="1.150"/></svg><span class="t" style="left:545.40px;top:253px;font-size:8.80px;color:#222;font-weight:400;transform:scaleX(0.9193);">2021年同比:</span><span class="t" style="left:711.03px;top:252px;font-size:8.80px;color:#222;font-weight:400;transform:scaleX(0.8700);">--</span><span class="t" style="left:545.52px;top:270px;font-size:23.00px;color:#ff4400;font-weight:700;transform:scaleX(0.8436);">--</span><span class="t" style="left:560.33px;top:284px;font-size:9.60px;color:#000;font-weight:700;transform:scaleX(0.9530);">元</span><span class="t" style="left:726.18px;top:177px;font-size:12.20px;color:#000;font-weight:700;transform:scaleX(0.8530);">动力用电</span><span class="t" style="left:726.64px;top:201px;font-size:25.50px;color:#1f62ad;font-weight:700;transform:scaleX(0.6374);">4692.13</span><span class="t" style="left:787.79px;top:217px;font-size:8.20px;color:#111;font-weight:400;transform:scaleX(1.0422);">kWh</span><span class="t" style="left:726.35px;top:235px;font-size:8.80px;color:#222;font-weight:400;transform:scaleX(0.9628);">环比:</span><span class="t" style="left:863.19px;top:235px;font-size:8.80px;color:#222;font-weight:400;transform:scaleX(0.8893);">88.65%</span><svg style="left:848.4px;top:234.200px" width="9.400" height="9.400" viewBox="0 0 9 9"><path d="M.9 2.900L2.900 .9l2.700 2.700L7 2.200 8.100 8.100 2.200 7l1.400-1.400z" fill="#eefbc0" stroke="#7cb518" stroke-width="1.150"/></svg><span class="t" style="left:726.20px;top:253px;font-size:8.80px;color:#222;font-weight:400;transform:scaleX(0.9193);">2021年同比:</span><span class="t" style="left:884.73px;top:252px;font-size:8.80px;color:#222;font-weight:400;transform:scaleX(0.8700);">--</span><span class="t" style="left:726.32px;top:270px;font-size:23.00px;color:#ff4400;font-weight:700;transform:scaleX(0.8436);">--</span><span class="t" style="left:741.13px;top:284px;font-size:9.60px;color:#000;font-weight:700;transform:scaleX(0.9530);">元</span><span class="t" style="left:900.79px;top:177px;font-size:12.20px;color:#000;font-weight:700;transform:scaleX(0.8487);">特殊用电</span><span class="t" style="left:901.03px;top:201px;font-size:25.50px;color:#1f62ad;font-weight:700;transform:scaleX(0.6517);">4281.86</span><span class="t" style="left:963.49px;top:217px;font-size:8.20px;color:#111;font-weight:400;transform:scaleX(1.0422);">kWh</span><span class="t" style="left:900.75px;top:235px;font-size:8.80px;color:#222;font-weight:400;transform:scaleX(0.9628);">环比:</span><span class="t" style="left:1037.69px;top:235px;font-size:8.80px;color:#222;font-weight:400;transform:scaleX(0.8722);">87.57%</span><svg style="left:1022.9px;top:234.200px" width="9.400" height="9.400" viewBox="0 0 9 9"><path d="M.9 2.900L2.900 .9l2.700 2.700L7 2.200 8.100 8.100 2.200 7l1.400-1.400z" fill="#eefbc0" stroke="#7cb518" stroke-width="1.150"/></svg><span class="t" style="left:900.60px;top:253px;font-size:8.80px;color:#222;font-weight:400;transform:scaleX(0.9193);">2021年同比:</span><span class="t" style="left:1058.73px;top:252px;font-size:8.80px;color:#222;font-weight:400;transform:scaleX(0.8700);">--</span><span class="t" style="left:900.72px;top:270px;font-size:23.00px;color:#ff4400;font-weight:700;transform:scaleX(0.8436);">--</span><span class="t" style="left:915.53px;top:284px;font-size:9.60px;color:#000;font-weight:700;transform:scaleX(0.9530);">元</span><svg style="left:0;top:0" width="1140" height="640" viewBox="0 0 1140 640"><ellipse cx="362.3" cy="455.0" rx="69.600" ry="80.200" fill="#fff" stroke="#e3e3e3" stroke-width="1.300"/><path d="M362.30 455.00 L362.30 381.70 A63.40 73.30 0 1 1 300.73 437.51 Z" fill="#ff7f50"/><path d="M362.30 455.00 L300.73 437.51 A63.40 73.30 0 0 1 324.72 395.97 Z" fill="#da70d6"/><path d="M362.30 455.00 L324.72 395.97 A63.40 73.30 0 0 1 362.30 381.70 Z" fill="#32cd32"/><path d="M403.200 514.400 L415.600 522.700 H425.500" fill="none" stroke="#ff7f50" stroke-width="1"/><path d="M299.300 438.200 L291.800 433.700 H282" fill="none" stroke="#87cefa" stroke-width="1"/><path d="M309.400 413.800 L300 407 H292" fill="none" stroke="#da70d6" stroke-width="1"/><path d="M342 384.500 L338 372 H331" fill="none" stroke="#32cd32" stroke-width="1"/><path d="M180.300 328.5 Q186 322.7 191.900 328.5 L189.300 332.6 Q187.700 330.7 186.100 331.7 Q184.500 330.7 182.900 332.6 Z" fill="#ff7f50"/><path d="M180.300 344.4 Q186 338.6 191.900 344.4 L189.300 348.5 Q187.700 346.6 186.100 347.6 Q184.500 346.6 182.900 348.5 Z" fill="#87cefa"/><path d="M180.300 360.3 Q186 354.5 191.900 360.3 L189.300 364.4 Q187.700 362.5 186.100 363.5 Q184.500 362.5 182.900 364.4 Z" fill="#da70d6"/><path d="M180.300 376.2 Q186 370.4 191.900 376.2 L189.300 380.3 Q187.700 378.4 186.100 379.4 Q184.500 378.4 182.900 380.3 Z" fill="#32cd32"/></svg><span class="t" style="left:194.72px;top:325px;font-size:8.40px;color:#333;font-weight:400;transform:scaleX(0.8271);">照明插座用电</span><span class="t" style="left:194.51px;top:341px;font-size:8.40px;color:#333;font-weight:400;transform:scaleX(0.8394);">空调用电</span><span class="t" style="left:194.65px;top:357px;font-size:8.40px;color:#333;font-weight:400;transform:scaleX(0.8352);">动力用电</span><span class="t" style="left:194.79px;top:373px;font-size:8.40px;color:#333;font-weight:400;transform:scaleX(0.8309);">特殊用电</span><span class="t" style="left:428.12px;top:519px;font-size:8.40px;color:#ff7f50;font-weight:400;transform:scaleX(0.8271);">照明插座用电</span><span class="t" style="left:250.00px;top:430px;font-size:8.40px;color:#87cefa;font-weight:400;transform:scaleX(0.8578);">空调用电</span><span class="t" style="left:261.05px;top:403px;font-size:8.40px;color:#da70d6;font-weight:400;transform:scaleX(0.8321);">动力用电</span><span class="t" style="left:298.79px;top:368px;font-size:8.40px;color:#32cd32;font-weight:400;transform:scaleX(0.8460);">特殊用电</span><svg style="left:503.200px;top:324px" width="11" height="12.800" viewBox="0 0 12 13" preserveAspectRatio="none">
<path d="M5 2.500A5 5 0 1 0 10 7.500H5z" fill="none" stroke="#1e90ff" stroke-width="1.300"/>
<path d="M6.800 .8a4.300 4.300 0 0 1 4.300 4.300H6.800z" fill="none" stroke="#1e90ff" stroke-width="1.200"/></svg><svg style="left:519.600px;top:325px" width="9.200" height="10.600" viewBox="0 0 10 11" preserveAspectRatio="none">
<path d="M0 .9h10M1.500 3.700h7M3 6.500h4M4.200 9.300h1.600" stroke="#32cd32" stroke-width="1.700" fill="none"/></svg><svg style="left:533.3px;top:324.7px" width="11" height="11" viewBox="0 0 11 11">
<path d="M1.300 5A4.300 4.300 0 0 1 8.800 2.400M9.700 6A4.300 4.300 0 0 1 2.200 8.600" fill="none" stroke="#6a2a9c" stroke-width="1.500"/>
<path d="M7.300 .5l3.400.6-.9 3.300zM3.700 10.500l-3.400-.6.900-3.300z" fill="#6a2a9c"/></svg><svg style="left:0;top:0" width="1140" height="640" viewBox="0 0 1140 640"><rect x="593.8" y="362.2" width="461.5" height="187.8" fill="#fff"/><path d="M593.8 362.20H1055.3" stroke="#dcdcdc" stroke-width="1"/><path d="M593.8 393.50H1055.3" stroke="#dcdcdc" stroke-width="1"/><path d="M593.8 424.80H1055.3" stroke="#dcdcdc" stroke-width="1"/><path d="M593.8 456.10H1055.3" stroke="#dcdcdc" stroke-width="1"/><path d="M593.8 487.40H1055.3" stroke="#dcdcdc" stroke-width="1"/><path d="M593.8 518.70H1055.3" stroke="#dcdcdc" stroke-width="1"/><path d="M593.8 550.00H1055.3" stroke="#dcdcdc" stroke-width="1"/><path d="M593.80 362.2V550.0" stroke="#d2d2d2" stroke-width="1"/><path d="M657.46 362.2V550.0" stroke="#d2d2d2" stroke-width="1"/><path d="M721.11 362.2V550.0" stroke="#d2d2d2" stroke-width="1"/><path d="M784.77 362.2V550.0" stroke="#d2d2d2" stroke-width="1"/><path d="M848.42 362.2V550.0" stroke="#d2d2d2" stroke-width="1"/><path d="M912.08 362.2V550.0" stroke="#d2d2d2" stroke-width="1"/><path d="M975.73 362.2V550.0" stroke="#d2d2d2" stroke-width="1"/><path d="M1039.39 362.2V550.0" stroke="#d2d2d2" stroke-width="1"/><path d="M1055.30 362.2V550.0" stroke="#d4d4d4" stroke-width="1"/><path d="M593.80 550.00 C593.80 550.00 604.46 550.00 609.71 550.00 C614.97 550.00 620.38 550.00 625.63 550.00 C630.88 550.00 636.29 550.00 641.54 550.00 C646.79 550.00 652.20 550.00 657.46 550.00 C662.71 550.00 668.12 550.00 673.37 550.00 C678.62 550.00 684.03 550.00 689.28 550.00 C694.53 550.00 699.94 550.00 705.20 550.00 C710.45 550.00 715.86 550.00 721.11 550.00 C726.36 550.00 731.77 550.00 737.02 550.00 C742.28 550.00 747.69 550.00 752.94 550.00 C758.19 550.00 763.60 550.00 768.85 550.00 C774.10 550.00 779.51 550.00 784.77 550.00 C790.02 550.00 795.43 550.00 800.68 550.00 C805.93 550.00 811.34 550.00 816.59 550.00 C821.84 550.00 827.26 550.00 832.51 550.00 C837.76 550.00 843.17 550.00 848.42 550.00 C853.67 550.00 859.08 550.00 864.33 550.00 C869.59 550.00 875.00 550.00 880.25 550.00 C885.50 550.00 890.91 550.00 896.16 550.00 C901.41 550.00 906.82 550.00 912.08 550.00 C917.33 550.00 922.74 550.00 927.99 550.00 C933.24 550.00 938.65 550.00 943.90 550.00 C949.15 550.00 954.57 550.00 959.82 550.00 C965.07 550.00 970.48 550.00 975.73 550.00 C980.98 550.00 986.39 550.00 991.64 550.00 C996.90 550.00 1002.31 550.00 1007.56 550.00 C1012.81 550.00 1018.22 550.00 1023.47 550.00 C1028.72 550.00 1034.13 550.00 1039.39 550.00 C1044.64 550.00 1055.30 550.00 1055.30 550.00" fill="none" stroke="#87cefa" stroke-width="1.450" stroke-linejoin="round"/><path d="M593.80 535.73 C593.80 535.73 604.44 537.50 609.71 537.73 C614.95 537.96 620.38 537.04 625.63 537.10 C630.88 537.17 636.29 538.00 641.54 538.11 C646.79 538.21 652.20 537.79 657.46 537.73 C662.71 537.67 668.16 538.18 673.37 537.73 C678.66 537.27 684.00 535.18 689.28 534.98 C694.51 534.77 699.94 536.02 705.20 536.48 C710.44 536.93 715.86 537.69 721.11 537.73 C726.36 537.77 731.78 537.14 737.02 536.73 C742.28 536.32 747.67 535.47 752.94 535.23 C758.18 534.98 763.64 534.78 768.85 535.23 C774.14 535.68 779.48 537.36 784.77 537.98 C789.98 538.60 795.50 539.47 800.68 538.98 C806.01 538.48 811.27 535.37 816.59 534.98 C821.78 534.59 827.24 536.23 832.51 536.60 C837.75 536.97 843.21 537.60 848.42 537.23 C853.71 536.85 859.81 532.73 864.33 534.35 C870.31 536.49 874.24 545.67 880.25 548.62 C884.74 550.00 890.90 549.77 896.16 550.00 C901.40 550.00 906.88 550.00 912.08 550.00 C917.38 549.46 923.46 549.25 927.99 546.74 C933.97 543.43 938.81 532.05 943.90 532.35 C949.31 532.67 953.65 545.20 959.82 548.62 C964.15 550.00 970.47 549.77 975.73 550.00 C980.97 550.00 986.39 550.00 991.64 550.00 C996.90 550.00 1002.31 550.00 1007.56 550.00 C1012.81 550.00 1018.22 550.00 1023.47 550.00 C1028.72 550.00 1034.13 550.00 1039.39 550.00 C1044.64 550.00 1055.30 550.00 1055.30 550.00" fill="none" stroke="#32cd32" stroke-width="1.450" stroke-linejoin="round"/><path d="M593.80 535.48 C593.80 535.48 604.37 539.42 609.71 539.98 C614.87 540.53 620.39 538.75 625.63 538.86 C630.89 538.96 636.28 540.20 641.54 540.61 C646.78 541.02 652.20 541.36 657.46 541.36 C662.71 541.36 668.12 540.86 673.37 540.61 C678.62 540.36 684.03 540.01 689.28 539.86 C694.53 539.70 700.10 540.60 705.20 539.67 C710.60 538.68 715.72 535.28 721.11 534.04 C726.22 532.86 731.85 533.33 737.02 532.35 C742.36 531.33 747.61 528.38 752.94 527.96 C758.11 527.56 764.03 528.02 768.85 529.84 C774.53 531.99 779.07 538.37 784.77 539.98 C789.58 541.35 795.56 539.88 800.68 538.86 C806.06 537.78 811.27 535.07 816.59 533.60 C821.77 532.17 827.79 528.82 832.51 530.09 C838.29 531.65 843.69 543.12 848.42 542.17 C854.19 541.02 859.35 523.19 864.33 523.71 C869.85 524.28 873.74 540.11 880.25 545.49 C884.24 548.79 890.81 549.24 896.16 550.00 C901.31 550.00 906.90 550.00 912.08 550.00 C917.40 549.35 924.21 549.48 927.99 546.12 C934.71 540.14 938.65 521.70 943.90 521.70 C949.15 521.70 953.09 540.14 959.82 546.12 C963.60 549.48 970.40 549.35 975.73 550.00 C980.91 550.00 986.39 550.00 991.64 550.00 C996.90 550.00 1002.31 550.00 1007.56 550.00 C1012.81 550.00 1018.22 550.00 1023.47 550.00 C1028.72 550.00 1034.13 550.00 1039.39 550.00 C1044.64 550.00 1055.30 550.00 1055.30 550.00" fill="none" stroke="#da70d6" stroke-width="1.450" stroke-linejoin="round"/><path d="M593.80 438.63 C593.80 438.63 604.87 444.91 609.71 448.78 C615.37 453.30 619.59 460.49 625.63 464.05 C630.09 466.68 636.78 468.75 641.54 467.56 C647.28 466.11 651.75 457.31 657.46 456.04 C662.25 454.97 668.50 461.42 673.37 460.48 C679.00 459.40 683.65 452.56 689.28 449.90 C694.15 447.60 699.85 446.05 705.20 445.46 C710.35 444.89 715.86 446.32 721.11 446.40 C726.36 446.47 731.85 446.63 737.02 445.90 C742.36 445.14 747.61 442.75 752.94 441.89 C758.12 441.05 763.62 441.33 768.85 440.76 C774.12 440.19 779.50 439.14 784.77 438.45 C790.01 437.76 795.55 437.72 800.68 436.57 C806.05 435.36 811.22 432.50 816.59 431.31 C821.73 430.17 829.48 426.22 832.51 429.50 C839.98 437.58 844.86 470.15 848.42 465.74 C855.37 457.13 860.65 382.35 864.33 390.06 C871.15 404.33 871.24 487.08 880.25 532.35 C881.74 539.86 889.87 546.51 896.16 550.00 C900.37 550.00 908.26 550.00 912.08 550.00 C918.76 545.19 925.93 535.90 927.99 527.09 C936.44 490.91 938.67 413.54 943.90 413.66 C949.17 413.77 951.33 491.41 959.82 527.78 C961.83 536.40 969.09 545.36 975.73 550.00 C979.60 550.00 986.39 550.00 991.64 550.00 C996.90 550.00 1002.31 550.00 1007.56 550.00 C1012.81 550.00 1018.22 550.00 1023.47 550.00 C1028.72 550.00 1034.13 550.00 1039.39 550.00 C1044.64 550.00 1055.30 550.00 1055.30 550.00" fill="none" stroke="#ff7f50" stroke-width="1.450" stroke-linejoin="round"/><path d="M593.8 361.7V551.0" stroke="#4a8fd0" stroke-width="1.500"/><path d="M593.0 550.2H1055.8" stroke="#4a8fd0" stroke-width="1.500"/><rect x="591.80" y="547.40" width="4" height="4.600" fill="#87cefa"/><rect x="607.71" y="547.40" width="4" height="4.600" fill="#87cefa"/><rect x="623.63" y="547.40" width="4" height="4.600" fill="#87cefa"/><rect x="639.54" y="547.40" width="4" height="4.600" fill="#87cefa"/><rect x="655.46" y="547.40" width="4" height="4.600" fill="#87cefa"/><rect x="671.37" y="547.40" width="4" height="4.600" fill="#87cefa"/><rect x="687.28" y="547.40" width="4" height="4.600" fill="#87cefa"/><rect x="703.20" y="547.40" width="4" height="4.600" fill="#87cefa"/><rect x="719.11" y="547.40" width="4" height="4.600" fill="#87cefa"/><rect x="735.02" y="547.40" width="4" height="4.600" fill="#87cefa"/><rect x="750.94" y="547.40" width="4" height="4.600" fill="#87cefa"/><rect x="766.85" y="547.40" width="4" height="4.600" fill="#87cefa"/><rect x="782.77" y="547.40" width="4" height="4.600" fill="#87cefa"/><rect x="798.68" y="547.40" width="4" height="4.600" fill="#87cefa"/><rect x="814.59" y="547.40" width="4" height="4.600" fill="#87cefa"/><rect x="830.51" y="547.40" width="4" height="4.600" fill="#87cefa"/><rect x="846.42" y="547.40" width="4" height="4.600" fill="#87cefa"/><rect x="862.33" y="547.40" width="4" height="4.600" fill="#87cefa"/><rect x="878.25" y="547.40" width="4" height="4.600" fill="#87cefa"/><rect x="894.16" y="547.40" width="4" height="4.600" fill="#87cefa"/><rect x="910.08" y="547.40" width="4" height="4.600" fill="#87cefa"/><rect x="925.99" y="547.40" width="4" height="4.600" fill="#87cefa"/><rect x="941.90" y="547.40" width="4" height="4.600" fill="#87cefa"/><rect x="957.82" y="547.40" width="4" height="4.600" fill="#87cefa"/><rect x="973.73" y="547.40" width="4" height="4.600" fill="#87cefa"/><rect x="989.64" y="547.40" width="4" height="4.600" fill="#87cefa"/><rect x="1005.56" y="547.40" width="4" height="4.600" fill="#87cefa"/><rect x="1021.47" y="547.40" width="4" height="4.600" fill="#87cefa"/><rect x="1037.39" y="547.40" width="4" height="4.600" fill="#87cefa"/><rect x="1053.30" y="547.40" width="4" height="4.600" fill="#87cefa"/><path d="M593.80 533.13l2.200 2.600-2.200 2.600-2.200-2.600z" fill="#32cd32"/><path d="M609.71 535.13l2.200 2.600-2.200 2.600-2.200-2.600z" fill="#32cd32"/><path d="M625.63 534.50l2.200 2.600-2.200 2.600-2.200-2.600z" fill="#32cd32"/><path d="M641.54 535.51l2.200 2.600-2.200 2.600-2.200-2.600z" fill="#32cd32"/><path d="M657.46 535.13l2.200 2.600-2.200 2.600-2.200-2.600z" fill="#32cd32"/><path d="M673.37 535.13l2.200 2.600-2.200 2.600-2.200-2.600z" fill="#32cd32"/><path d="M689.28 532.38l2.200 2.600-2.200 2.600-2.200-2.600z" fill="#32cd32"/><path d="M705.20 533.88l2.200 2.600-2.200 2.600-2.200-2.600z" fill="#32cd32"/><path d="M721.11 535.13l2.200 2.600-2.200 2.600-2.200-2.600z" fill="#32cd32"/><path d="M737.02 534.13l2.200 2.600-2.200 2.600-2.200-2.600z" fill="#32cd32"/><path d="M752.94 532.63l2.200 2.600-2.200 2.600-2.200-2.600z" fill="#32cd32"/><path d="M768.85 532.63l2.200 2.600-2.200 2.600-2.200-2.600z" fill="#32cd32"/><path d="M784.77 535.38l2.200 2.600-2.200 2.600-2.200-2.600z" fill="#32cd32"/><path d="M800.68 536.38l2.200 2.600-2.200 2.600-2.200-2.600z" fill="#32cd32"/><path d="M816.59 532.38l2.200 2.600-2.200 2.600-2.200-2.600z" fill="#32cd32"/><path d="M832.51 534.00l2.200 2.600-2.200 2.600-2.200-2.600z" fill="#32cd32"/><path d="M848.42 534.63l2.200 2.600-2.200 2.600-2.200-2.600z" fill="#32cd32"/><path d="M864.33 531.75l2.200 2.600-2.200 2.600-2.200-2.600z" fill="#32cd32"/><path d="M880.25 546.02l2.200 2.600-2.200 2.600-2.200-2.600z" fill="#32cd32"/><path d="M896.16 547.40l2.200 2.600-2.200 2.600-2.200-2.600z" fill="#32cd32"/><path d="M912.08 547.40l2.200 2.600-2.200 2.600-2.200-2.600z" fill="#32cd32"/><path d="M927.99 544.14l2.200 2.600-2.200 2.600-2.200-2.600z" fill="#32cd32"/><path d="M943.90 529.75l2.200 2.600-2.200 2.600-2.200-2.600z" fill="#32cd32"/><path d="M959.82 546.02l2.200 2.600-2.200 2.600-2.200-2.600z" fill="#32cd32"/><path d="M975.73 547.40l2.200 2.600-2.200 2.600-2.200-2.600z" fill="#32cd32"/><path d="M991.64 547.40l2.200 2.600-2.200 2.600-2.200-2.600z" fill="#32cd32"/><path d="M1007.56 547.40l2.200 2.600-2.200 2.600-2.200-2.600z" fill="#32cd32"/><path d="M1023.47 547.40l2.200 2.600-2.200 2.600-2.200-2.600z" fill="#32cd32"/><path d="M1039.39 547.40l2.200 2.600-2.200 2.600-2.200-2.600z" fill="#32cd32"/><path d="M1055.30 547.40l2.200 2.600-2.200 2.600-2.200-2.600z" fill="#32cd32"/><path d="M593.80 532.68l2.400 4.600h-4.800z" fill="#da70d6"/><path d="M609.71 537.18l2.400 4.600h-4.800z" fill="#da70d6"/><path d="M625.63 536.06l2.400 4.600h-4.800z" fill="#da70d6"/><path d="M641.54 537.81l2.400 4.600h-4.800z" fill="#da70d6"/><path d="M657.46 538.56l2.400 4.600h-4.800z" fill="#da70d6"/><path d="M673.37 537.81l2.400 4.600h-4.800z" fill="#da70d6"/><path d="M689.28 537.06l2.400 4.600h-4.800z" fill="#da70d6"/><path d="M705.20 536.87l2.400 4.600h-4.800z" fill="#da70d6"/><path d="M721.11 531.24l2.400 4.600h-4.800z" fill="#da70d6"/><path d="M737.02 529.55l2.400 4.600h-4.800z" fill="#da70d6"/><path d="M752.94 525.16l2.400 4.600h-4.800z" fill="#da70d6"/><path d="M768.85 527.04l2.400 4.600h-4.800z" fill="#da70d6"/><path d="M784.77 537.18l2.400 4.600h-4.800z" fill="#da70d6"/><path d="M800.68 536.06l2.400 4.600h-4.800z" fill="#da70d6"/><path d="M816.59 530.80l2.400 4.600h-4.800z" fill="#da70d6"/><path d="M832.51 527.29l2.400 4.600h-4.800z" fill="#da70d6"/><path d="M848.42 539.38l2.400 4.600h-4.800z" fill="#da70d6"/><path d="M864.33 520.91l2.400 4.600h-4.800z" fill="#da70d6"/><path d="M880.25 542.69l2.400 4.600h-4.800z" fill="#da70d6"/><path d="M896.16 547.20l2.400 4.600h-4.800z" fill="#da70d6"/><path d="M912.08 547.20l2.400 4.600h-4.800z" fill="#da70d6"/><path d="M927.99 543.32l2.400 4.600h-4.800z" fill="#da70d6"/><path d="M943.90 518.90l2.400 4.600h-4.800z" fill="#da70d6"/><path d="M959.82 543.32l2.400 4.600h-4.800z" fill="#da70d6"/><path d="M975.73 547.20l2.400 4.600h-4.800z" fill="#da70d6"/><path d="M991.64 547.20l2.400 4.600h-4.800z" fill="#da70d6"/><path d="M1007.56 547.20l2.400 4.600h-4.800z" fill="#da70d6"/><path d="M1023.47 547.20l2.400 4.600h-4.800z" fill="#da70d6"/><path d="M1039.39 547.20l2.400 4.600h-4.800z" fill="#da70d6"/><path d="M1055.30 547.20l2.400 4.600h-4.800z" fill="#da70d6"/><ellipse cx="593.80" cy="438.63" rx="1.900" ry="2.200" fill="#ff7f50"/><ellipse cx="609.71" cy="448.78" rx="1.900" ry="2.200" fill="#ff7f50"/><ellipse cx="625.63" cy="464.05" rx="1.900" ry="2.200" fill="#ff7f50"/><ellipse cx="641.54" cy="467.56" rx="1.900" ry="2.200" fill="#ff7f50"/><ellipse cx="657.46" cy="456.04" rx="1.900" ry="2.200" fill="#ff7f50"/><ellipse cx="673.37" cy="460.48" rx="1.900" ry="2.200" fill="#ff7f50"/><ellipse cx="689.28" cy="449.90" rx="1.900" ry="2.200" fill="#ff7f50"/><ellipse cx="705.20" cy="445.46" rx="1.900" ry="2.200" fill="#ff7f50"/><ellipse cx="721.11" cy="446.40" rx="1.900" ry="2.200" fill="#ff7f50"/><ellipse cx="737.02" cy="445.90" rx="1.900" ry="2.200" fill="#ff7f50"/><ellipse cx="752.94" cy="441.89" rx="1.900" ry="2.200" fill="#ff7f50"/><ellipse cx="768.85" cy="440.76" rx="1.900" ry="2.200" fill="#ff7f50"/><ellipse cx="784.77" cy="438.45" rx="1.900" ry="2.200" fill="#ff7f50"/><ellipse cx="800.68" cy="436.57" rx="1.900" ry="2.200" fill="#ff7f50"/><ellipse cx="816.59" cy="431.31" rx="1.900" ry="2.200" fill="#ff7f50"/><ellipse cx="832.51" cy="429.50" rx="1.900" ry="2.200" fill="#ff7f50"/><ellipse cx="848.42" cy="465.74" rx="1.900" ry="2.200" fill="#ff7f50"/><ellipse cx="864.33" cy="390.06" rx="1.900" ry="2.200" fill="#ff7f50"/><ellipse cx="880.25" cy="532.35" rx="1.900" ry="2.200" fill="#ff7f50"/><ellipse cx="896.16" cy="550.00" rx="1.900" ry="2.200" fill="#ff7f50"/><ellipse cx="912.08" cy="550.00" rx="1.900" ry="2.200" fill="#ff7f50"/><ellipse cx="927.99" cy="527.09" rx="1.900" ry="2.200" fill="#ff7f50"/><ellipse cx="943.90" cy="413.66" rx="1.900" ry="2.200" fill="#ff7f50"/><ellipse cx="959.82" cy="527.78" rx="1.900" ry="2.200" fill="#ff7f50"/><ellipse cx="975.73" cy="550.00" rx="1.900" ry="2.200" fill="#ff7f50"/><ellipse cx="991.64" cy="550.00" rx="1.900" ry="2.200" fill="#ff7f50"/><ellipse cx="1007.56" cy="550.00" rx="1.900" ry="2.200" fill="#ff7f50"/><ellipse cx="1023.47" cy="550.00" rx="1.900" ry="2.200" fill="#ff7f50"/><ellipse cx="1039.39" cy="550.00" rx="1.900" ry="2.200" fill="#ff7f50"/><ellipse cx="1055.30" cy="550.00" rx="1.900" ry="2.200" fill="#ff7f50"/><path d="M724.2 329.3h3.300M732.2 329.3h3.300" stroke="#ff7f50" stroke-width="1.500"/><ellipse cx="729.9" cy="329.3" rx="2.200" ry="2.700" fill="#ff7f50"/><path d="M785.9 329.3h3.300M793.9 329.3h3.300" stroke="#87cefa" stroke-width="1.500"/><rect x="789.5" y="326.8" width="4.200" height="5" fill="#87cefa"/><path d="M834.1 329.3h3.300M842.1 329.3h3.300" stroke="#da70d6" stroke-width="1.500"/><path d="M839.8 326.5l2.400 5h-4.800z" fill="#da70d6"/><path d="M881.5 329.3h3.300M889.5 329.3h3.300" stroke="#32cd32" stroke-width="1.500"/><path d="M887.2 326.5l2.300 2.800-2.300 2.800-2.300-2.800z" fill="#32cd32"/></svg><span class="t" style="left:738.62px;top:325px;font-size:8.40px;color:#333;font-weight:400;transform:scaleX(0.8331);">照明插座用电</span><span class="t" style="left:799.50px;top:325px;font-size:8.40px;color:#333;font-weight:400;transform:scaleX(0.8547);">空调用电</span><span class="t" style="left:848.46px;top:325px;font-size:8.40px;color:#333;font-weight:400;transform:scaleX(0.8200);">动力用电</span><span class="t" style="left:895.99px;top:325px;font-size:8.40px;color:#333;font-weight:400;transform:scaleX(0.8158);">特殊用电</span><span class="t" style="left:572.27px;top:350px;font-size:8.60px;color:#3a7ec0;font-weight:400;transform:scaleX(0.8969);">电量 (kWh)</span><span class="t" style="left:573.45px;top:361px;font-size:9.00px;color:#222;font-weight:400;transform:scaleX(0.8200);">3000</span><span class="t" style="left:573.45px;top:389px;font-size:9.00px;color:#222;font-weight:400;transform:scaleX(0.8200);">2500</span><span class="t" style="left:573.45px;top:420px;font-size:9.00px;color:#222;font-weight:400;transform:scaleX(0.8200);">2000</span><span class="t" style="left:573.45px;top:451px;font-size:9.00px;color:#222;font-weight:400;transform:scaleX(0.8200);">1500</span><span class="t" style="left:573.45px;top:483px;font-size:9.00px;color:#222;font-weight:400;transform:scaleX(0.8200);">1000</span><span class="t" style="left:577.55px;top:514px;font-size:9.00px;color:#222;font-weight:400;transform:scaleX(0.8200);">500</span><span class="t" style="left:585.76px;top:541px;font-size:9.00px;color:#222;font-weight:400;transform:scaleX(0.8200);">0</span><span class="t" style="left:575.14px;top:555px;font-size:9.00px;color:#222;font-weight:400;transform:scaleX(0.8102);">2022-04-01</span><span class="t" style="left:638.79px;top:555px;font-size:9.00px;color:#222;font-weight:400;transform:scaleX(0.8086);">2022-04-05</span><span class="t" style="left:702.45px;top:555px;font-size:9.00px;color:#222;font-weight:400;transform:scaleX(0.8102);">2022-04-09</span><span class="t" style="left:766.10px;top:555px;font-size:9.00px;color:#222;font-weight:400;transform:scaleX(0.8086);">2022-04-13</span><span class="t" style="left:829.76px;top:555px;font-size:9.00px;color:#222;font-weight:400;transform:scaleX(0.8102);">2022-04-17</span><span class="t" style="left:893.41px;top:555px;font-size:9.00px;color:#222;font-weight:400;transform:scaleX(0.8102);">2022-04-21</span><span class="t" style="left:957.07px;top:555px;font-size:9.00px;color:#222;font-weight:400;transform:scaleX(0.8086);">2022-04-25</span><span class="t" style="left:1020.72px;top:555px;font-size:9.00px;color:#222;font-weight:400;transform:scaleX(0.8102);">2022-04-29</span><svg style="left:1027.500px;top:324.500px" width="11" height="12" viewBox="0 0 11 12">
<path d="M.8 0v11.300h10" fill="none" stroke="#6db6f2" stroke-width="1.100"/>
<path d="M1.800 9.500l2.200-5.500 2.200 3.500L9.800 1.200" fill="none" stroke="#4aa3ee" stroke-width="1.200"/></svg><svg style="left:1042.500px;top:324.500px" width="11" height="12" viewBox="0 0 11 12">
<path d="M.8 0v11.300h10" fill="none" stroke="#5cd65c" stroke-width="1.100"/>
<path d="M2.800 10V3.500M5.300 10V1.200M7.800 10V6" stroke="#4cd14c" stroke-width="1.700" fill="none"/></svg><svg style="left:1058.200px;top:325.300px" width="11" height="10" viewBox="0 0 11 10">
<path d="M0 1.400h10.400M0 5h10.400M0 8.600h10.400" stroke="#7b3fa8" stroke-width="1.900" fill="none"/></svg><svg style="left:1074.200px;top:324.300px" width="9" height="12" viewBox="0 0 9 12">
<path d="M1.200 0v11.800M4.300 0v11.800M7.400 0v11.800" stroke="#f59a55" stroke-width="1.700" fill="none"/></svg><svg style="left:1088.3px;top:324.6px" width="11" height="11" viewBox="0 0 11 11">
<path d="M1.300 5A4.300 4.300 0 0 1 8.800 2.400M9.700 6A4.300 4.300 0 0 1 2.200 8.600" fill="none" stroke="#2590f0" stroke-width="1.500"/>
<path d="M7.300 .5l3.400.6-.9 3.300zM3.700 10.500l-3.400-.6.900-3.300z" fill="#2590f0"/></svg><div class="a" style="left:176.300px;top:590.400px;width:916.200px;height:15px;background:#ececec;border-top:2px solid #3a7fc2;box-sizing:border-box"></div><div class="a" style="left:212.1px;top:592.400px;width:1px;height:13px;background:#aab4b8"></div><div class="a" style="left:268.4px;top:592.400px;width:1px;height:13px;background:#aab4b8"></div><div class="a" style="left:433.2px;top:592.400px;width:1px;height:13px;background:#aab4b8"></div><div class="a" style="left:597.8px;top:592.400px;width:1px;height:13px;background:#aab4b8"></div><div class="a" style="left:762.5px;top:592.400px;width:1px;height:13px;background:#aab4b8"></div><div class="a" style="left:927.3px;top:592.400px;width:1px;height:13px;background:#aab4b8"></div><span class="t" style="left:340.85px;top:600px;font-size:9.60px;color:#000;font-weight:700;transform:scaleX(0.6886);">总用电</span><span class="t" style="left:495.80px;top:600px;font-size:9.60px;color:#000;font-weight:700;transform:scaleX(0.6828);">照明插座用电</span><span class="t" style="left:666.80px;top:600px;font-size:9.60px;color:#000;font-weight:700;transform:scaleX(0.6909);">空调用电</span><span class="t" style="left:831.74px;top:600px;font-size:9.60px;color:#000;font-weight:700;transform:scaleX(0.6874);">动力用电</span><span class="t" style="left:996.87px;top:600px;font-size:9.60px;color:#000;font-weight:700;transform:scaleX(0.6839);">特殊用电</span><div class="a" style="left:1115.500px;top:118px;width:10.500px;height:487.500px;background:#f1f1f1"></div><div class="a" style="left:1117px;top:129.300px;width:8px;height:265.200px;background:#cdcdcd"></div><svg style="left:1118.300px;top:120.800px" width="6" height="5" viewBox="0 0 6 5"><path d="M.4 4.200L3 1l2.600 3.200" fill="none" stroke="#333" stroke-width="1.300"/></svg><svg style="left:1118.300px;top:596.500px" width="6" height="5" viewBox="0 0 6 5"><path d="M.5 1L3 4l2.500-3" fill="none" stroke="#444" stroke-width="1.100"/></svg><div class="a" style="left:19px;top:603.500px;width:133.500px;height:1.600px;background:#fff"></div><div class="a" style="left:19px;top:605px;width:1107px;height:26px;background:#367ab9"></div><div class="a" style="left:19px;top:605px;width:1107px;height:1.400px;background:#2068b4"></div><div class="a" style="left:19px;top:628.700px;width:1107px;height:1.100px;background:#1c62b0"></div><div class="a" style="left:19px;top:629.800px;width:1107px;height:1.300px;background:#dbe6f2"></div><span class="t" style="left:486.95px;top:615px;font-size:8.40px;color:#fff;font-weight:400;transform:scaleX(0.8345);">长沙市住房和城乡建设局</span><svg style="left:1049.300px;top:608.600px" width="16" height="18.400" viewBox="0 0 16 18.400">
<defs><linearGradient id="fx" x1="0" y1=".3" x2="1" y2=".6"><stop offset="0" stop-color="#ee3a12"/><stop offset=".5" stop-color="#f77a14"/><stop offset=".8" stop-color="#fdc60f"/><stop offset="1" stop-color="#ffe21a"/></linearGradient>
<linearGradient id="gl" x1="0" y1="0" x2="0" y2="1"><stop offset="0" stop-color="#49c2f5"/><stop offset=".5" stop-color="#2468d4"/><stop offset="1" stop-color="#162f96"/></linearGradient></defs>
<ellipse cx="8.300" cy="8.300" rx="6" ry="7" fill="url(#gl)"/>
<path d="M2.600 2.800C1 4.500 0 6.800.3 9.800c.4 4.600 3.600 8.300 7.900 8.300 4.400 0 7.600-3.800 7.600-8.800 0-3.600-1.700-6.300-4.200-7.600 1.800 1.900 2.300 4.300 1.900 6.600-.5 2.800-2.400 4.600-4.900 4.600-1.700 0-3.100-.9-3.700-2.200 1 .4 2.400.2 3-.4-1.400-.2-2.600-1.200-2.800-2.600.5.200 1.200.2 1.800 0C6 6.900 5.300 5.800 5.400 4.500 4.300 4.700 3.300 5.400 2.800 6.300c-.3-1.200-.4-2.300-.2-3.500z" fill="url(#fx)"/>
</svg><span class="t" style="left:1066.64px;top:614px;font-size:9.30px;color:#fff;font-weight:700;transform:scaleX(0.9288);">20+</span><svg style="left:1086.800px;top:608.500px" width="17" height="19" viewBox="0 0 17 19">
<defs><linearGradient id="ie" x1="0" y1="0" x2="0" y2="1"><stop offset="0" stop-color="#1b55b8"/><stop offset=".55" stop-color="#2285dc"/><stop offset="1" stop-color="#35c6f8"/></linearGradient>
<linearGradient id="sw" x1="0" y1="1" x2="1" y2="0"><stop offset="0" stop-color="#f08a10"/><stop offset=".5" stop-color="#ffd21a"/><stop offset="1" stop-color="#f07a10"/></linearGradient></defs>
<path d="M9.200 3.600c-3.600 0-6.100 2.800-6.100 6.600s2.600 6.700 6.200 6.700c2.600 0 4.700-1.400 5.600-3.700h-3.200c-.5.700-1.300 1.100-2.300 1.100-1.700 0-2.900-1.200-3-3.200h8.800c.4-4.300-2.100-7.500-6-7.500zm-2.700 5.500c.3-1.600 1.300-2.600 2.800-2.600s2.500 1 2.700 2.600z" fill="url(#ie)"/>
<path d="M1.300 18.300C-1.300 15.300 5.500 3 15.300.6 9.800 3.600 2.800 12.500 2.600 17.600z" fill="url(#sw)"/>
<path d="M15.300.6c1.700.7 1.300 3.300-.2 5.800" fill="none" stroke="#f08a10" stroke-width="1.100"/>
</svg><span class="t" style="left:1104.73px;top:614px;font-size:9.30px;color:#fff;font-weight:700;transform:scaleX(0.9592);">9+</span></div></body></html>
